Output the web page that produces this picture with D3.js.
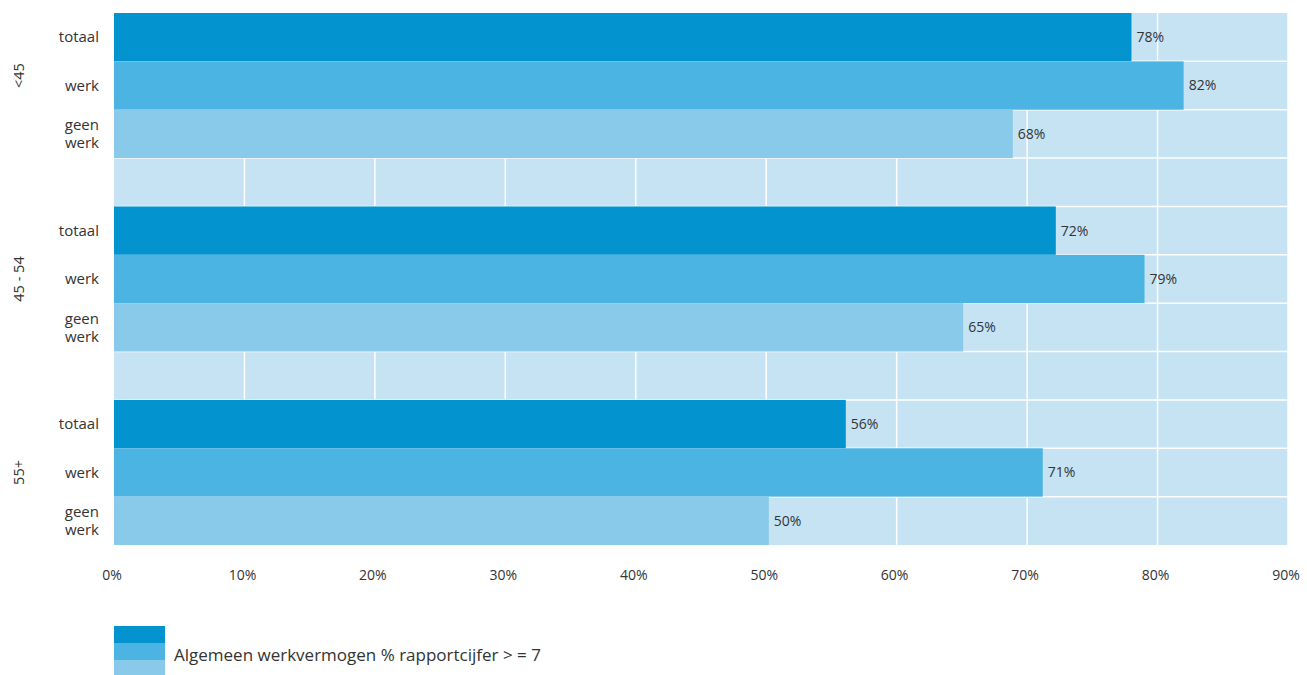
<!DOCTYPE html>
<html><head><meta charset="utf-8">
<script src="https://cdn.jsdelivr.net/npm/d3@7"></script>
<style>body{margin:0;background:#fff;} text{font-family:"Open Sans",Lato,sans-serif;fill:#333;}</style>
</head><body>
<svg id="c" width="1307" height="675"></svg>
<script>
const groups = ["<45", "45 - 54", "55+"];
const subcats = ["totaal", "werk", "geen werk"];
const values = [[78, 82, 68.9], [72.2, 79, 65.1], [56.1, 71.2, 50.2]];
const valueLabels = [["78%", "82%", "68%"], ["72%", "79%", "65%"], ["56%", "71%", "50%"]];
const ticks = [0, 10, 20, 30, 40, 50, 60, 70, 80, 90];
const colors = ["#0394d0", "#4bb4e2", "#89c9ea"];
const legendText = "Algemeen werkvermogen % rapportcijfer > = 7";

const svg = d3.select("#c");
const x = d3.scaleLinear().domain([0, 90]).range([114, 1288]);
const slots = [];
groups.forEach((g, gi) => {
  subcats.forEach((s, si) => slots.push({key: gi + "-" + si, g: gi, s: si}));
  if (gi < groups.length - 1) slots.push({key: "gap" + gi, gap: true});
});
const y = d3.scaleBand().domain(slots.map(d => d.key)).range([13, 545]).paddingInner(0).paddingOuter(0);

svg.append("rect").attr("x", x(0)).attr("y", y.range()[0]).attr("width", x(90) - x(0))
  .attr("height", y.range()[1] - y.range()[0]).attr("fill", "#c5e3f3");
svg.selectAll("line.vg").data(ticks.filter(t => t > 0)).join("line").attr("class", "vg")
  .attr("x1", d => x(d)).attr("x2", d => x(d)).attr("y1", 13).attr("y2", 545)
  .attr("stroke", "#fff").attr("stroke-width", 1.5);
svg.selectAll("line.hg").data(slots.slice(1)).join("line").attr("class", "hg")
  .attr("x1", x(0)).attr("x2", x(90)).attr("y1", d => y(d.key)).attr("y2", d => y(d.key))
  .attr("stroke", "#fff").attr("stroke-width", 1.5);

const barSlots = slots.filter(d => !d.gap);
svg.selectAll("rect.bar").data(barSlots).join("rect").attr("class", "bar")
  .attr("x", x(0)).attr("y", d => y(d.key)).attr("height", y.bandwidth())
  .attr("width", d => x(values[d.g][d.s]) - x(0)).attr("fill", d => colors[d.s]);

svg.selectAll("text.val").data(barSlots).join("text").attr("class", "val")
  .attr("x", d => x(values[d.g][d.s]) + 5).attr("y", d => y(d.key) + y.bandwidth() / 2)
  .attr("dy", "0.35em").attr("font-size", 14).text(d => valueLabels[d.g][d.s]);

barSlots.forEach(d => {
  const words = subcats[d.s].split(" ");
  const t = svg.append("text").attr("text-anchor", "end").attr("font-size", 15)
    .attr("x", 100).attr("y", y(d.key) + y.bandwidth() / 2);
  words.forEach((w, i) => {
    t.append("tspan").attr("x", 99).attr("dy", i === 0 ? ((0.35 - (words.length - 1) * 0.6) + "em") : "1.2em").text(w);
  });
});

groups.forEach((g, gi) => {
  const cy = y(gi + "-1") + y.bandwidth() / 2 - (gi === 0 ? 10 : 0);
  svg.append("text").attr("transform", `translate(24,${cy}) rotate(-90)`)
    .attr("text-anchor", "middle").attr("font-size", 14.5).text(g);
});

svg.selectAll("text.tick").data(ticks).join("text").attr("class", "tick")
  .attr("x", d => x(d) - 2).attr("y", 580).attr("text-anchor", "middle").attr("font-size", 14)
  .text(d => d + "%");

colors.forEach((c, i) => {
  svg.append("rect").attr("x", 114).attr("y", 626 + i * 17).attr("width", 51).attr("height", 17).attr("fill", c);
});
svg.append("text").attr("x", 174).attr("y", 661).attr("font-size", 17).text(legendText);
</script>
</body></html>
